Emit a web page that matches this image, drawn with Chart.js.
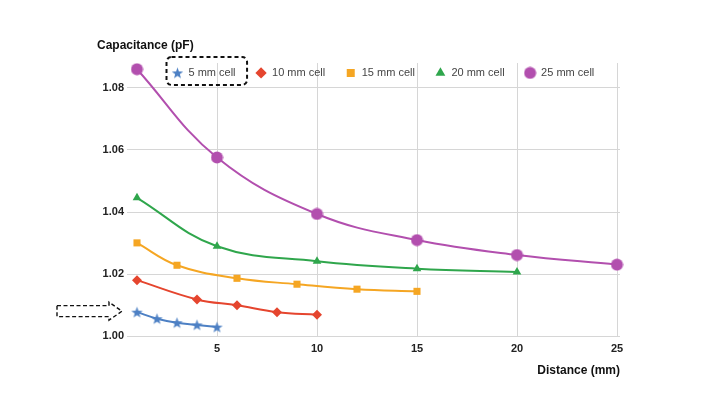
<!DOCTYPE html>
<html>
<head>
<meta charset="utf-8">
<script src="https://cdn.jsdelivr.net/npm/chart.js@4.4.1/dist/chart.umd.min.js"></script>
<style>
body { margin: 0; background: #fff; }
</style>
</head>
<body>
<canvas id="capchart" width="720" height="405"></canvas>
<script>
// values
var seriesNames = ['5 mm cell', '10 mm cell', '15 mm cell', '20 mm cell', '25 mm cell'];
var xBlue = [1, 2, 3, 4, 5];
var blue = [1.0078, 1.0057, 1.0044, 1.0037, 1.0030];
var xRed = [1, 4, 6, 8, 10];
var red = [1.0181, 1.0119, 1.0100, 1.0078, 1.0070];
var xOrange = [1, 3, 6, 9, 12, 15];
var orange = [1.0301, 1.0229, 1.0187, 1.0168, 1.0152, 1.0145];
var xGreen = [1, 5, 10, 15, 20];
var green = [1.0446, 1.0290, 1.0242, 1.0218, 1.0207];
var xPurple = [1, 5, 10, 15, 20, 25];
var purple = [1.0860, 1.0576, 1.0394, 1.0310, 1.0262, 1.0231];

var colors = ['#4d80c4', '#e5452e', '#f5a623', '#2fa64c', '#b24fae'];

function pts(xs, ys) {
    return xs.map(function(x, i){ return {x: x, y: ys[i]}; });
}

// filled 5 point star marker
function starMarker(col) {
    var c = document.createElement('canvas');
    c.width = 13; c.height = 13;
    var g = c.getContext('2d');
    g.fillStyle = col;
    g.beginPath();
    for (var i = 0; i < 10; i++) {
        var r = i % 2 ? 2.4 : 6;
        var a = -Math.PI / 2 + i * Math.PI / 5;
        g.lineTo(6.5 + r * Math.cos(a), 7 + r * Math.sin(a));
    }
    g.closePath();
    g.fill();
    return c;
}

function dotMarker(col, r) {
    var c = document.createElement('canvas');
    c.width = 13; c.height = 13;
    var g = c.getContext('2d');
    g.fillStyle = col;
    g.beginPath();
    g.arc(6.5, 6.5, r, 0, Math.PI * 2);
    g.fill();
    return c;
}

function ds(i, data, style, radius) {
    return {
        label: seriesNames[i],
        data: data,
        borderColor: colors[i],
        backgroundColor: colors[i],
        borderWidth: 2,
        tension: 0.4,
        clip: false,
        pointStyle: style,
        pointRadius: radius,
        pointBorderWidth: 0,
        pointHoverRadius: radius
    };
}

Chart.defaults.font.family = '"Liberation Sans", Arial, sans-serif';

// dashed box round the first legend item and dashed arrow at the 5 mm curve
var notes = {
    id: 'notes',
    afterLayout: function(chart) {
        var lg = chart.legend;
        lg.left = chart.chartArea.left + 25;
        // legend was squeezed so the plot starts under it, give the clip room back
        lg.bottom = lg.top + 40;
        lg.height = 40;
    },
    afterDraw: function(chart) {
        var ctx = chart.ctx;
        var hb = chart.legend.legendHitBoxes[0];
        var cy = hb.top + hb.height / 2;
        ctx.save();
        ctx.strokeStyle = '#111';
        ctx.lineWidth = 2;
        ctx.setLineDash([4, 3]);
        ctx.beginPath();
        ctx.roundRect(hb.left - 5.5, cy - 16, hb.width + 17, 28, 5);
        ctx.stroke();

        var tx = chart.scales.x.getPixelForValue(xBlue[0]) - 15;
        var ty = chart.scales.y.getPixelForValue(blue[0]) - 1;
        ctx.lineWidth = 1.4;
        ctx.setLineDash([4, 2.5]);
        ctx.beginPath();
        ctx.moveTo(tx - 65, ty - 5.5);
        ctx.lineTo(tx - 13, ty - 5.5);
        ctx.lineTo(tx - 13, ty - 9);
        ctx.lineTo(tx, ty);
        ctx.lineTo(tx - 13, ty + 9);
        ctx.lineTo(tx - 13, ty + 5.5);
        ctx.lineTo(tx - 65, ty + 5.5);
        ctx.closePath();
        ctx.stroke();
        ctx.restore();
    }
};

var ctx = document.getElementById('capchart').getContext('2d');
var capchart = new Chart(ctx, {
    type: 'line',
    data: {
        datasets: [
            ds(0, pts(xBlue, blue), starMarker(colors[0]), 5),
            ds(1, pts(xRed, red), 'rectRot', 5),
            ds(2, pts(xOrange, orange), 'rect', 5),
            ds(3, pts(xGreen, green), 'triangle', 5),
            ds(4, pts(xPurple, purple), dotMarker(colors[4], 6), 6)
        ]
    },
    options: {
        responsive: false,
        animation: false,
        layout: { padding: { left: 97, right: 100, top: 38, bottom: 23 } },
        plugins: {
            tooltip: { enabled: false },
            title: {
                display: true,
                text: 'Capacitance (pF)',
                align: 'start',
                color: '#111',
                font: { size: 12, weight: 'bold' },
                padding: { top: 0, bottom: -5 }
            },
            legend: {
                display: true,
                position: 'top',
                align: 'start',
                labels: {
                    usePointStyle: true,
                    boxHeight: 8,
                    padding: 20,
                    color: '#444',
                    font: { size: 11 }
                }
            }
        },
        scales: {
            x: {
                type: 'linear',
                min: 0.5,
                max: 25.15,
                border: { display: false },
                grid: { color: '#d6d6d6', drawTicks: false },
                ticks: {
                    stepSize: 5,
                    includeBounds: false,
                    padding: 6,
                    color: '#222',
                    font: { size: 11, weight: 'bold' }
                },
                title: {
                    display: true,
                    text: 'Distance (mm)',
                    align: 'end',
                    color: '#111',
                    font: { size: 12, weight: 'bold' },
                    padding: { top: 2, bottom: 4 }
                }
            },
            y: {
                min: 1,
                max: 1.088,
                border: { display: false },
                grid: { color: '#d6d6d6', drawTicks: false },
                ticks: {
                    stepSize: 0.02,
                    includeBounds: false,
                    padding: 3,
                    color: '#222',
                    font: { size: 11, weight: 'bold' },
                    callback: function(v){ return v.toFixed(2); }
                },
                afterFit: function(scale){ scale.width = 30; }
            }
        }
    },
    plugins: [notes, {
        id: 'legendOverlap',
        beforeInit: function(chart) {
            // let the legend sit over the top of the plot like the original
            var fit = chart.legend.fit;
            chart.legend.fit = function() {
                fit.call(this);
                this.height = 15.6;
            };
        }
    }]
});
</script>
</body>
</html>
